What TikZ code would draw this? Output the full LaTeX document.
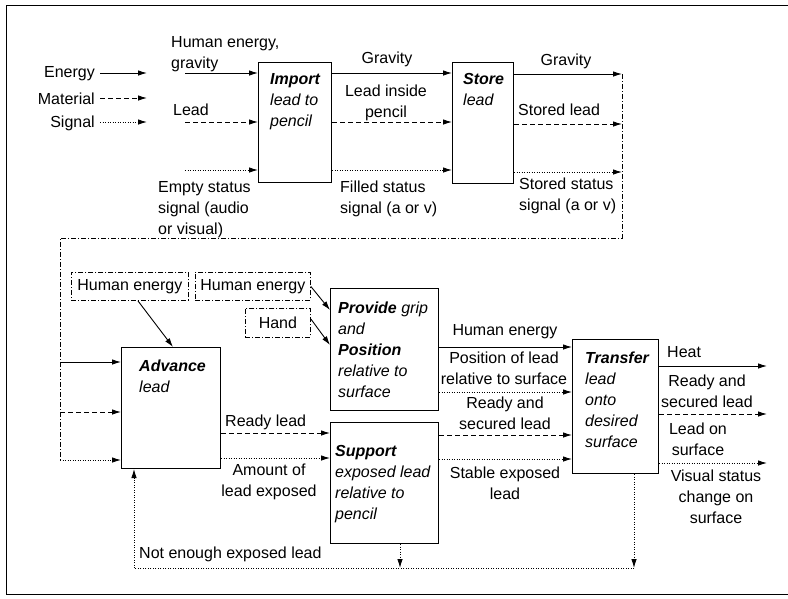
\documentclass[tikz,border=0pt]{standalone}
\usepackage{fontspec}
\setmainfont{Liberation Sans}
\usetikzlibrary{arrows.meta}
\begin{document}
\begin{tikzpicture}[x=1pt,y=-1pt,
 every node/.style={font=\fontsize{16}{21}\selectfont, inner sep=0pt},
 fbox/.style={draw, line width=1pt, anchor=north west},
 lbl/.style={align=left, anchor=north west, yshift=-2pt},
 lblc/.style={align=center, anchor=north, yshift=-2pt},
 en/.style={line width=0.9pt, -{Latex[length=9pt,width=5.5pt]}},
 mat/.style={en, dash pattern=on 5pt off 3pt},
 sig/.style={en, dash pattern=on 1pt off 1.5pt},
 ctl/.style={line width=0.8pt, dash pattern=on 5pt off 2pt on 1pt off 2pt},
 sigl/.style={line width=0.9pt, dash pattern=on 1pt off 1.5pt},
]
\fill[white] (0,0) rectangle (788,598);
\useasboundingbox (0,0) rectangle (788,598);
\draw[line width=0.8pt] (790,5) -- (6,5) -- (6,594) -- (790,594);

% legend
\node[anchor=east] (legE) at (95,74) {Energy};
\node[anchor=east] (legM) at (95,99) {Material};
\node[anchor=east] (legS) at (95,123) {Signal};
\coordinate (legEa) at (147,73);
\coordinate (legMa) at (147,98);
\coordinate (legSa) at (147,122);
\draw[en] (legEa -| 100,0) -- (legEa);
\draw[mat] (legMa -| 100,0) -- (legMa);
\draw[sig] (legSa -| 100,0) -- (legSa);

% boxes
\node[fbox, minimum width=73pt, minimum height=120pt] (imp) at (258,62) {};
\node[fbox, minimum width=61pt, minimum height=121pt] (st) at (452,62) {};
\node[fbox, minimum width=99pt, minimum height=121pt] (adv) at (121,347) {};
\node[fbox, minimum width=108pt, minimum height=122pt] (prov) at (330,288) {};
\node[fbox, minimum width=108pt, minimum height=121pt] (sup) at (330,422) {};
\node[fbox, minimum width=86pt, minimum height=134pt] (tr) at (572,339) {};

\node[lbl] (impt) at (270,71) {\textbf{\textit{Import}}\\\textit{lead to}\\\textit{pencil}};
\node[lbl] (stt) at (463,71) {\textbf{\textit{Store}}\\\textit{lead}};
\node[lbl] (advt) at (139,358) {\textbf{\textit{Advance}}\\\textit{lead}};
\node[lbl] (provt) at (338,300) {\textbf{\textit{Provide}} \textit{grip}\\\textit{and}\\\textbf{\textit{Position}}\\\textit{relative to}\\\textit{surface}};
\node[lbl] (supt) at (335,443) {\textbf{\textit{Support}}\\\textit{exposed lead}\\\textit{relative to}\\\textit{pencil}};
\node[lbl] (trt) at (585,350) {\textbf{\textit{Transfer}}\\\textit{lead}\\\textit{onto}\\\textit{desired}\\\textit{surface}};

% level coordinates
\coordinate (s1) at (185,73);
\coordinate (s2) at (185,122);
\coordinate (s3) at (185,170);
\draw[en] (s1) -- (s1 -| imp.west);
\draw[mat] (s2) -- (s2 -| imp.west);
\draw[sig] (s3) -- (s3 -| imp.west);
\draw[en] (s1 -| imp.east) -- (s1 -| st.west);
\draw[mat] (s2 -| imp.east) -- (s2 -| st.west);
\draw[sig] (s3 -| imp.east) -- (s3 -| st.west);

\coordinate (o1) at (622,74);
\coordinate (o2) at (622,124);
\coordinate (o3) at (622,172);
\draw[en] (o1 -| st.east) -- (o1);
\draw[mat] (o2 -| st.east) -- (o2);
\draw[sig] (o3 -| st.east) -- (o3);

\coordinate (r1) at (622,238);
\coordinate (r2) at (60,238);
\coordinate (r3) at (60,460);
\draw[ctl] (o1) -- (r1) -- (r2) -- (r3);
\coordinate (b1) at (60,362);
\coordinate (b2) at (60,412);
\draw[en] (b1) -- (b1 -| adv.west);
\draw[mat] (b2) -- (b2 -| adv.west);
\draw[sig] (r3) -- (r3 -| adv.west);

% human energy boxes
\node[draw, ctl, anchor=north west, minimum width=117pt, minimum height=28pt] (he1) at (71,272) {Human energy};
\node[draw, ctl, anchor=north west, minimum width=115pt, minimum height=28pt] (he2) at (195,272) {Human energy};
\node[draw, ctl, anchor=north west, minimum width=65pt, minimum height=29pt] (hand) at (245,308) {Hand};
\draw[en] ([xshift=8pt]he1.south) -- ([xshift=2pt]adv.north);
\draw[en] (he2.east) -- ([yshift=-22pt]prov.north west);
\draw[en] ([yshift=4pt]hand.east) -- ([yshift=-57pt]prov.north west);

% advance -> support
\coordinate (c1) at (0,433);
\coordinate (c2) at (0,458);
\draw[mat] (c1 -| adv.east) -- (c1 -| sup.west);
\draw[sig] (c2 -| adv.east) -- (c2 -| sup.west);

% provide/support -> transfer
\coordinate (d1) at (0,347);
\coordinate (d2) at (0,392);
\coordinate (d3) at (0,435);
\coordinate (d4) at (0,459);
\draw[en] (d1 -| prov.east) -- (d1 -| tr.west);
\draw[sig] (d2 -| prov.east) -- (d2 -| tr.west);
\draw[mat] (d3 -| sup.east) -- (d3 -| tr.west);
\draw[sig] (d4 -| sup.east) -- (d4 -| tr.west);

% transfer outputs
\coordinate (t1) at (767,366);
\coordinate (t2) at (767,414);
\coordinate (t3) at (767,463);
\draw[en] (t1 -| tr.east) -- (t1);
\draw[mat] (t2 -| tr.east) -- (t2);
\draw[sig] (t3 -| tr.east) -- (t3);

% feedback
\coordinate (f1) at (634,568);
\coordinate (f2) at (400,568);
\coordinate (f3) at (134,568);
\draw[sig] (f1 |- tr.south) -- (f1);
\draw[sig] (f2 |- sup.south) -- (f2);
\draw[sigl, -{Latex[length=9pt,width=5.5pt]}] (f1) -- (f3) -- (f3 |- adv.south);

% labels
\node[lbl] (lHE) at (171,34) {Human energy,\\gravity};
\node[lbl] (lLead) at (173,102) {Lead};
\node[lbl] (lEmpty) at (158,179) {Empty status\\signal (audio\\or visual)};
\node[lblc] (lGrav1) at (387,50) {Gravity};
\node[lblc] (lLin) at (386,83) {Lead inside\\pencil};
\node[lbl] (lFill) at (340,179) {Filled status\\signal (a or v)};
\node[lblc] (lGrav2) at (566,52) {Gravity};
\node[lbl] (lStl) at (518,102) {Stored lead};
\node[lbl] (lSts) at (519,176) {Stored status\\signal (a or v)};
\node[lbl] (lNot) at (139,545) {Not enough exposed lead};
\node[lbl] (lRdy) at (225,413) {Ready lead};
\node[lblc] (lAmt) at (269,462) {Amount of\\lead exposed};
\node[lblc] (lHE2) at (505,322) {Human energy};
\node[lblc] (lPos) at (504,350) {Position of lead\\relative to surface};
\node[lblc] (lRas) at (505,395) {Ready and\\secured lead};
\node[lblc] (lSta) at (505,465) {Stable exposed\\lead};
\node[lbl] (lHeat) at (667,344) {Heat};
\node[lblc] (lRas2) at (707,373) {Ready and\\secured lead};
\node[lblc] (lLos) at (698,421) {Lead on\\surface};
\node[lblc] (lVis) at (716,468) {Visual status\\change on\\surface};
\end{tikzpicture}
\end{document}
